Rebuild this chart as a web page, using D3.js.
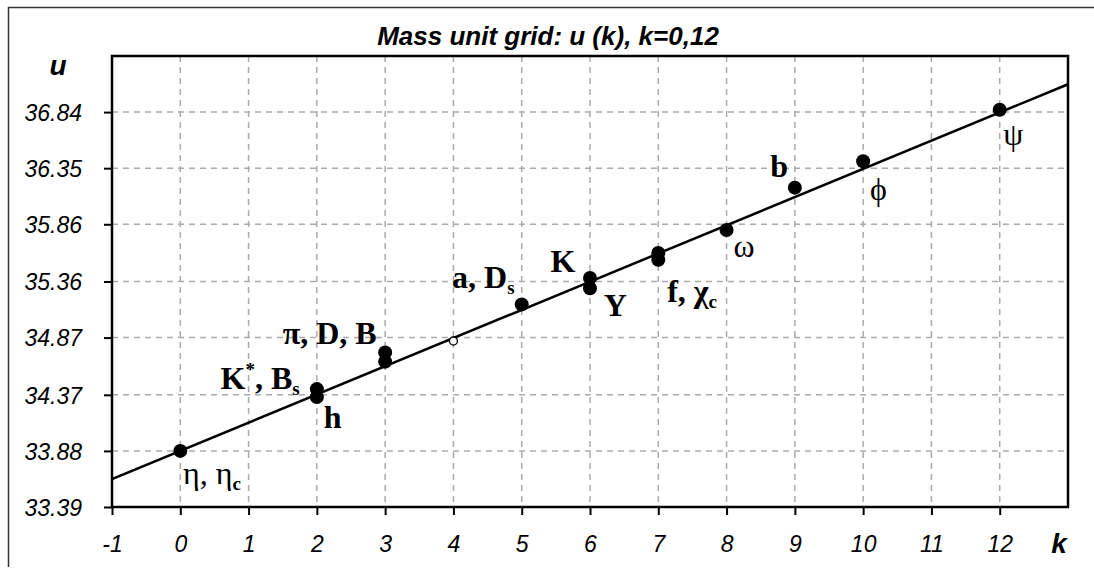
<!DOCTYPE html>
<html>
<head>
<meta charset="utf-8">
<script src="https://cdn.jsdelivr.net/npm/d3@7"></script>
<style>
    body {margin: 0; background: #fff;}
    .tick-label {font-family: "Liberation Sans", Arial, sans-serif; font-style: italic; font-size: 23px;}
    .axis-name {font-family: "Liberation Sans", Arial, sans-serif; font-style: italic; font-weight: bold; font-size: 28px;}
    .pt-label {font-family: "Liberation Serif", "Times New Roman", serif; font-size: 32px;}
</style>
</head>
<body>
<div id="chart"></div>
<script>

// data
const kTicks=[-1, 0, 1, 2, 3, 4, 5, 6, 7, 8, 9, 10, 11, 12];
const uTicks=[33.39, 33.88, 34.37, 34.87, 35.36, 35.86, 36.35, 36.84];
const pointK=[0, 2, 2, 3, 3, 5, 6, 6, 7, 7, 8, 9, 10, 12];
const pointU=[33.88, 34.42, 34.35, 34.74, 34.66, 35.16, 35.39, 35.30, 35.61, 35.55, 35.81, 36.18, 36.41, 36.86];
const openK=[4];
const openU=[34.84];
const fitK=[-1, 13];
const fitU=[33.634, 37.083];

// label text: [text, kind] where kind is "", "sub" or "sup"
const labelText=[
    [["η", ""], [", η", ""], ["c", "sub"]],
    [["K", ""], ["*", "sup"], [", B", ""], ["s", "sub"]],
    [["h", ""]],
    [["π, D, B", ""]],
    [["a, D", ""], ["s", "sub"]],
    [["K", ""]],
    [["Y", ""]],
    [["f, χ", ""], ["c", "sub"]],
    [["ω", ""]],
    [["b", ""]],
    [["ϕ", ""]],
    [["ψ", ""]]
];
const labelBold=[false, true, true, true, true, true, true, true, false, true, false, false];
// anchor (start, baseline) in data units
const labelK=[0.04, 0.59, 2.10, 1.50, 3.98, 5.42, 6.20, 7.13, 8.10, 8.64, 10.10, 12.05];
const labelU=[33.59, 34.42, 34.08, 34.81, 35.30, 35.44, 35.06, 35.18, 35.57, 36.27, 36.07, 36.55];


const W=1094, H=571;
const margin={left: 112, top: 56, right: 26, bottom: 64};

const svg=d3.select("#chart").append("svg")
    .attr("width", W)
    .attr("height", H);

// page frame (left and top edges)
svg.append("path")
    .attr("d", `M8.5,${H-4} V7.5 H${W}`)
    .attr("fill", "none")
    .attr("stroke", "#333")
    .attr("stroke-width", 1.5);

const x=d3.scaleLinear().domain([-1, 13]).range([margin.left, W-margin.right]);
const y=d3.scaleLinear().domain([33.39, 37.33]).range([H-margin.bottom, margin.top]);

// grid
svg.append("g").selectAll("line")
    .data(kTicks.filter(d => d>-1))
    .enter().append("line")
    .attr("x1", d => x(d)).attr("x2", d => x(d))
    .attr("y1", y.range()[1]).attr("y2", y.range()[0])
    .attr("stroke", "#aaa")
    .attr("stroke-width", 1.5)
    .attr("stroke-dasharray", "6,5");

svg.append("g").selectAll("line")
    .data(uTicks.filter(d => d>33.39))
    .enter().append("line")
    .attr("x1", x.range()[0]).attr("x2", x.range()[1])
    .attr("y1", d => y(d)).attr("y2", d => y(d))
    .attr("stroke", "#aaa")
    .attr("stroke-width", 1.5)
    .attr("stroke-dasharray", "6,5");

// axes
const xAxis=svg.append("g")
    .attr("transform", `translate(0,${y.range()[0]})`)
    .call(d3.axisBottom(x).tickValues(kTicks).tickSize(8).tickFormat(d => String(d)));
xAxis.select(".domain").remove();
xAxis.selectAll("line").attr("stroke", "#000").attr("stroke-width", 2);
xAxis.selectAll("text").attr("class", "tick-label").attr("dy", null).attr("y", 45).attr("fill", "#000");

const yAxis=svg.append("g")
    .attr("transform", `translate(${x.range()[0]},0)`)
    .call(d3.axisLeft(y).tickValues(uTicks).tickSize(8).tickFormat(d3.format(".2f")));
yAxis.select(".domain").remove();
yAxis.selectAll("line").attr("stroke", "#000").attr("stroke-width", 2);
yAxis.selectAll("text").attr("class", "tick-label").attr("x", -30).attr("dy", "0.36em").attr("fill", "#000");

// plot border
svg.append("rect")
    .attr("x", x.range()[0])
    .attr("y", y.range()[1])
    .attr("width", x.range()[1]-x.range()[0])
    .attr("height", y.range()[0]-y.range()[1])
    .attr("fill", "none")
    .attr("stroke", "#000")
    .attr("stroke-width", 2.5);

// fit line
const clipId="plot-clip";
svg.append("clipPath").attr("id", clipId).append("rect")
    .attr("x", x.range()[0]).attr("y", y.range()[1])
    .attr("width", x.range()[1]-x.range()[0])
    .attr("height", y.range()[0]-y.range()[1]);

svg.append("path")
    .datum(fitK.map((k, i) => [k, fitU[i]]))
    .attr("clip-path", `url(#${clipId})`)
    .attr("d", d3.line().x(d => x(d[0])).y(d => y(d[1])))
    .attr("fill", "none")
    .attr("stroke", "#000")
    .attr("stroke-width", 2.5);

// points
svg.append("g").selectAll("circle")
    .data(pointK.map((k, i) => [k, pointU[i]]))
    .enter().append("circle")
    .attr("cx", d => x(d[0]))
    .attr("cy", d => y(d[1]))
    .attr("r", 7)
    .attr("fill", "#000");

svg.append("g").selectAll("circle")
    .data(openK.map((k, i) => [k, openU[i]]))
    .enter().append("circle")
    .attr("cx", d => x(d[0]))
    .attr("cy", d => y(d[1]))
    .attr("r", 4)
    .attr("fill", "#fff")
    .attr("stroke", "#000")
    .attr("stroke-width", 1.3);

// point labels
labelText.forEach((parts, i) => {
    const t=svg.append("text")
        .attr("class", "pt-label")
        .attr("x", x(labelK[i]))
        .attr("y", y(labelU[i]))
        .attr("font-weight", labelBold[i]? "bold":"normal");
    let shift=0;
    parts.forEach(([s, kind]) => {
        const sp=t.append("tspan").text(s);
        let target=0;
        if (kind==="sub") target=6;
        if (kind==="sup") target=-13;
        sp.attr("dy", target-shift);
        if (kind) sp.style("font-size", "19px").attr("font-weight", "bold");
        shift=target;
    });
});

// titles
svg.append("text")
    .attr("x", 548)
    .attr("y", 45)
    .attr("text-anchor", "middle")
    .attr("class", "axis-name")
    .style("font-size", "26px")
    .text("Mass unit grid: u (k), k=0,12");

svg.append("text")
    .attr("x", 58)
    .attr("y", 75)
    .attr("text-anchor", "middle")
    .attr("class", "axis-name")
    .text("u");

svg.append("text")
    .attr("x", 1059)
    .attr("y", 553)
    .attr("text-anchor", "middle")
    .attr("class", "axis-name")
    .text("k");

</script>
</body>
</html>
